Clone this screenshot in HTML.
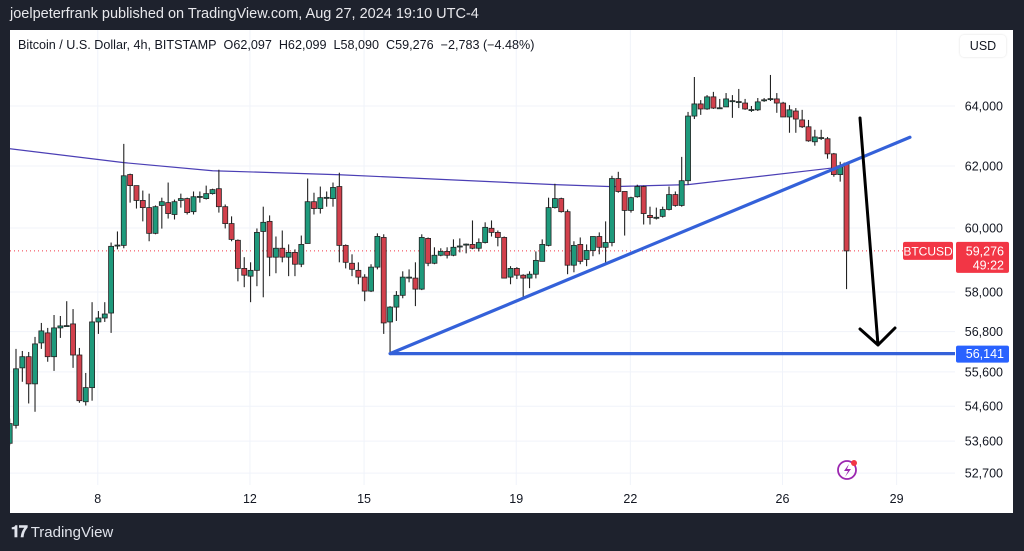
<!DOCTYPE html>
<html><head><meta charset="utf-8"><style>
body{margin:0;width:1024px;height:551px;background:#1e222d;overflow:hidden;font-family:"Liberation Sans",sans-serif;}
#hdr{position:absolute;left:10px;top:6px;color:#e8e8ec;font-size:14.5px;}
#panel{position:absolute;left:10px;top:30px;width:1003px;height:483px;background:#fff;}
#sym{position:absolute;left:18px;top:38px;font-size:12.6px;color:#131722;}
#usd{position:absolute;left:960px;top:35px;width:46px;height:22px;border-radius:4px;background:#fff;box-shadow:0 0 2px #ddd;font-size:12.5px;color:#131722;text-align:center;line-height:22px;}
#logo{position:absolute;left:11px;top:524px;color:#e0e3eb;font-size:15px;}
</style></head><body>
<div id="hdr">joelpeterfrank published on TradingView.com, Aug 27, 2024 19:10 UTC-4</div>
<div id="panel"></div>
<svg id="chart" width="1024" height="551" style="position:absolute;left:0;top:0"><defs><clipPath id="pc"><rect x="10" y="30" width="945" height="455"/></clipPath></defs></svg>
<div id="sym">Bitcoin / U.S. Dollar, 4h, BITSTAMP&nbsp; O62,097&nbsp; H62,099&nbsp; L58,090&nbsp; C59,276&nbsp; −2,783 (−4.48%)</div>
<div id="usd">USD</div>
<div id="logo"><b style="font-size:16px;letter-spacing:-1px">𝟏𝟕</b> TradingView</div>
<script>
const opens=[53540,54050,55720,56050,55250,56460,56760,56050,56910,56970,57030,56100,54730,55140,57090,57210,57360,59450,59450,61720,61360,60880,60650,59830,60720,60810,60430,60880,60940,60520,61000,60940,61100,61260,60680,60140,59610,58730,58490,58670,59890,60210,59080,59360,59080,59230,58860,59510,60840,60620,60970,60940,61330,59450,58890,58670,58460,58030,58770,59700,57090,57540,57900,58430,58430,58090,59670,58890,59140,59260,59140,59420,59480,59480,59360,59540,59990,59860,59700,58460,58730,58520,58430,58550,58950,59450,60650,60940,60520,58830,59480,59010,59290,59730,59390,59540,61590,61170,60560,61000,61330,60400,60330,60370,60590,61070,60720,61520,63660,64070,63900,64310,63930,63970,64170,64140,64100,63870,63870,64200,64240,64240,64100,63630,63830,63530,63300,62800,62930,62900,62400,61720,62097];
const highs=[54245,56282,56220,56190,56640,57060,56910,57300,57270,57720,57480,56310,55570,57690,57420,57690,59540,59890,62730,61750,61360,61200,61100,60720,60970,61460,60908,61100,60970,61170,61170,61360,61260,61878,60750,60370,59638,59080,58920,59985,60680,60400,59730,59920,59480,59325,59760,61590,61130,61330,61170,61460,61780,59480,59170,58920,58550,58860,59830,59800,57570,58030,58640,58700,58920,59800,59700,59390,59360,59390,59640,59670,59510,60240,59670,60180,60240,59920,59730,58800,58770,58550,58640,59260,59640,60970,61420,60970,60590,59580,59700,59480,59733,59860,60210,61680,61810,61170,61000,61390,61360,60680,60650,60680,61330,61170,62300,63800,64990,64200,64370,64480,64240,64440,64370,64580,64240,64000,64270,64270,65060,64440,64140,64030,63930,63870,63530,63200,63200,62960,62430,62140,62099];
const lows=[53480,53960,55310,54680,54440,56282,55900,55630,56610,56940,55720,54700,54620,54760,56730,57090,56760,59325,59360,60810,60620,60210,59580,59800,59980,60300,60270,60650,60430,60430,60810,60910,61070,60490,59985,59580,58330,58150,57690,58180,57840,58490,58580,58920,58490,58490,58770,59510,60430,60460,60680,60680,58920,58730,58490,58240,57720,58000,58700,56730,56160,57120,57810,58300,57570,58060,58800,58860,59110,59040,59110,59230,59200,59330,59260,59510,59730,59420,58420,58240,58400,57840,58120,58420,58950,59420,60620,60490,58550,58610,58860,58800,59110,59170,58890,59420,61130,59760,60490,60970,60110,60110,60270,60330,60560,60680,60680,61390,63560,63700,63870,63900,63930,63970,63600,63930,63870,63800,63830,64140,64170,63770,63630,63100,63100,63260,62800,62670,62860,62240,61650,61490,58090];
const closes=[54100,55692,56050,55250,56430,56820,56050,56910,56970,56980,56100,54760,55140,57090,57210,57330,59420,59460,61680,61360,60880,60650,59830,60680,60840,60460,60840,60940,60490,61000,61010,61100,61230,60680,60140,59638,58730,58520,58670,59860,60180,59080,59360,59080,59230,58860,59480,60840,60620,60970,60980,61300,59450,58920,58703,58460,58030,58770,59733,57060,57540,57900,58460,58460,58090,59700,58890,59140,59260,59140,59390,59430,59490,59360,59540,60020,59860,59700,58430,58730,58520,58430,58550,58980,59480,60650,60940,60520,58830,59450,58950,59290,59730,59390,59540,61590,61170,60560,60970,61330,60460,60330,60340,60590,61070,60720,61520,63660,64070,63900,64310,63930,63940,64240,64180,64150,63900,63880,64140,64210,64250,64100,63630,63870,63560,63300,62830,62960,62940,62400,61720,62010,59276];
const maIdx=[0,18,32,52,86,95,107,130,132];
const maVals=[62570,62110,61845,61715,61392,61327,61392,61940,62020];
const priceTicks=[64000,62000,60000,58000,56800,55600,54600,53600,52700];
const priceTickLabels=["64,000","62,000","60,000","58,000","56,800","55,600","54,600","53,600","52,700"];
const dateDays=[8,12,15,19,22,26,29];
const dateLabels=["8","12","15","19","22","26","29"];
const lastPrice=59276, supportPrice=56141, trendStart=[60,56141], trendEnd=[142,62950];

const NS="http://www.w3.org/2000/svg", svg=document.getElementById('chart');
const x=i=>9.66+i*6.34;
const y=p=>106+1890*Math.log(64000/p);
const dayIdx=d=>13.9+(d-8)*6;
function mk(t,a,parent){const e=document.createElementNS(NS,t);for(const k in a)e.setAttribute(k,a[k]);(parent||svg).appendChild(e);return e;}
priceTicks.forEach((p,i)=>{
  const g=mk('line',{x1:10,x2:955,y1:y(p),y2:y(p),stroke:'#f0f3fa'});
  
  
  const t=mk('text',{x:1003,y:y(p)+4.5,'text-anchor':'end','font-size':12.5,fill:'#131722','font-family':'Liberation Sans'});
  t.textContent=priceTickLabels[i];
  
  
});
dateDays.forEach((d,i)=>{
  const g=mk('line',{x1:x(dayIdx(d)),x2:x(dayIdx(d)),y1:30,y2:485,stroke:'#f0f3fa'});
  
  
  const t=mk('text',{x:x(dayIdx(d)),y:503,'text-anchor':'middle','font-size':12.5,fill:'#131722','font-family':'Liberation Sans'});
  t.textContent=dateLabels[i];
  
  
});
const lp=mk('line',{x1:10,x2:903,y1:y(lastPrice),y2:y(lastPrice),stroke:'#f23645','stroke-dasharray':'1 3'});


const ma=mk('polyline',{points:maIdx.map((v,i)=>x(v)+','+y(maVals[i])).join(' '),fill:'none',stroke:'#4b3fb5','stroke-width':1.2,'clip-path':'url(#pc)'});


const cg=mk('g',{'clip-path':'url(#pc)'});


opens.forEach((o,i)=>{
  const c=closes[i],up=c>=o,cx=x(i);
  const w=mk('line',{x1:cx,x2:cx,y1:y(highs[i]),y2:y(lows[i]),stroke:'#222','stroke-width':1.1},cg);
  
  
  const top=y(Math.max(o,c)),h=Math.max(1,y(Math.min(o,c))-top);
  const b=mk('rect',{x:cx-2.5,y:top,width:5,height:h,fill:up?'#1e9a7c':'#d2404c',stroke:'#222','stroke-width':0.8},cg);
  
  
});
const tl=mk('line',{x1:x(trendStart[0]),y1:y(trendStart[1]),x2:x(trendEnd[0]),y2:y(trendEnd[1]),stroke:'#3461d9','stroke-width':3.2,'stroke-linecap':'round'});


const sl=mk('line',{x1:x(trendStart[0]),y1:y(supportPrice),x2:955,y2:y(supportPrice),stroke:'#3461d9','stroke-width':3.2});


const ar=mk('path',{d:'M860 118 L878 345 M860 329 L878 345 L895 328',fill:'none',stroke:'#000','stroke-width':3,'stroke-linecap':'round','stroke-linejoin':'round'});


const ly=y(lastPrice);
const bl=mk('rect',{x:903,y:ly-9,width:50,height:18,rx:2,fill:'#f23645'});


const blt=mk('text',{x:928,y:ly+4.5,'text-anchor':'middle','font-size':12,fill:'#fff','font-family':'Liberation Sans'});blt.textContent='BTCUSD';


const pl=mk('rect',{x:956,y:ly-9,width:53,height:31,rx:2,fill:'#f23645'});


const plt=mk('text',{x:1004,y:ly+4.5,'text-anchor':'end','font-size':12.5,fill:'#fff','font-family':'Liberation Sans'});plt.textContent='59,276';


const cdt=mk('text',{x:1004,y:ly+18.5,'text-anchor':'end','font-size':12.5,fill:'#fff','font-family':'Liberation Sans'});cdt.textContent='49:22';


const sy=y(supportPrice);
const sb=mk('rect',{x:956,y:sy-8,width:53,height:17,rx:2,fill:'#2962ff'});


const sbt=mk('text',{x:1004,y:sy+4.5,'text-anchor':'end','font-size':12.5,fill:'#fff','font-family':'Liberation Sans'});sbt.textContent='56,141';


const ic=mk('g',{});


mk('circle',{cx:847,cy:470,r:9,fill:'none',stroke:'#9c27b0','stroke-width':1.8},ic);
mk('path',{d:'M849 464 L844 471 L848 471 L845 477 L851 469 L847 469 Z',fill:'#9c27b0'},ic);
mk('circle',{cx:854,cy:463,r:3,fill:'#f23645'},ic);
</script>
</body></html>
